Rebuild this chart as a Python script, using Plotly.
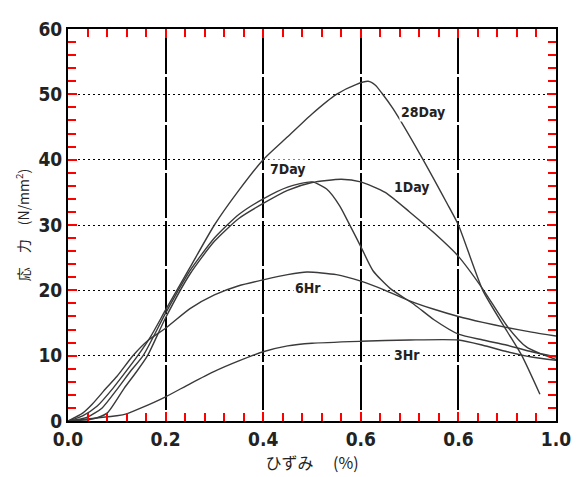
import plotly.graph_objects as go

# strain (%) / stress (N/mm2)
x_3hr = [0, 0.05, 0.1, 0.12, 0.15, 0.2, 0.25, 0.3, 0.35, 0.4, 0.45, 0.5, 0.6, 0.7, 0.8, 0.85, 0.9, 0.95, 1.0]
y_3hr = [0, 0.4, 0.8, 1.1, 2.0, 3.7, 5.7, 7.6, 9.2, 10.6, 11.5, 11.9, 12.2, 12.4, 12.4, 11.6, 10.6, 9.8, 9.3]

x_6hr = [0, 0.03, 0.05, 0.078, 0.1, 0.133, 0.165, 0.2, 0.25, 0.3, 0.35, 0.4, 0.45, 0.49,
         0.55, 0.6, 0.65, 0.7, 0.75, 0.8, 0.85, 0.9, 0.95, 1.0]
y_6hr = [0, 1.2, 2.6, 5.0, 6.8, 10.0, 12.4, 14.2, 17.2, 19.3, 20.7, 21.6, 22.4, 22.8,
         22.4, 21.4, 20.0, 18.4, 17.1, 16.0, 15.1, 14.3, 13.6, 13.0]

x_1day = [0, 0.05, 0.08, 0.115, 0.14, 0.163, 0.2, 0.25, 0.3, 0.35, 0.4, 0.45, 0.5, 0.56,
          0.6, 0.65, 0.7, 0.75, 0.8, 0.85, 0.9, 0.94, 1.0]
y_1day = [0, 0.3, 1.2, 5.0, 7.5, 10.0, 15.8, 22.5, 27.5, 31.0, 33.3, 35.3, 36.5, 37.0,
          36.6, 35.0, 32.0, 28.8, 25.2, 20.2, 14.5, 11.3, 9.4]

x_7day = [0, 0.04, 0.07, 0.102, 0.13, 0.154, 0.2, 0.25, 0.3, 0.35, 0.4, 0.45, 0.5, 0.53,
          0.557, 0.578, 0.6, 0.625, 0.66, 0.71, 0.75, 0.8, 0.85, 0.9, 0.95, 1.0]
y_7day = [0, 0.6, 2.0, 5.0, 7.8, 10.0, 16.5, 23.0, 28.0, 31.6, 34.0, 35.8, 36.6, 35.5,
          32.9, 29.9, 26.7, 23.0, 20.3, 17.8, 15.5, 13.3, 12.4, 11.6, 10.6, 9.8]

x_28day = [0, 0.03, 0.06, 0.092, 0.12, 0.143, 0.17, 0.2, 0.25, 0.3, 0.35, 0.4, 0.45, 0.5,
           0.55, 0.59, 0.615, 0.63, 0.643, 0.666, 0.72, 0.776, 0.8, 0.85, 0.9, 0.93, 0.967]
y_28day = [0, 0.8, 2.3, 5.0, 7.7, 10.0, 13.0, 17.0, 23.5, 30.0, 35.3, 40.0, 43.5, 47.0,
           50.0, 51.5, 52.0, 51.4, 50.2, 47.8, 41.0, 33.4, 30.0, 20.0, 13.7, 10.0, 4.1]

series = [("3Hr", x_3hr, y_3hr), ("6Hr", x_6hr, y_6hr), ("1Day", x_1day, y_1day),
          ("7Day", x_7day, y_7day), ("28Day", x_28day, y_28day)]

# label positions (data coords)
label_names = ["28Day", "7Day", "1Day", "6Hr", "3Hr"]
label_x = [0.727, 0.451, 0.705, 0.492, 0.695]
label_y = [47.3, 38.5, 35.8, 20.4, 10.1]

# the source figure labels the 0.8 tick as "0.6"
x_label_alias = {"0.8": "0.6"}

FONT = "DejaVu Sans Condensed, Liberation Sans, sans-serif"
JP_FONT = "Noto Sans CJK JP"
TICK = "red"

fig = go.Figure()
for name, xs, ys in series:
    fig.add_trace(go.Scatter(
        x=xs, y=ys, mode="lines", name=name,
        line=dict(color="#3a3a3a", width=1.4, shape="spline", smoothing=0.6),
        showlegend=False, hoverinfo="skip"))

for name, lx, ly in zip(label_names, label_x, label_y):
    fig.add_annotation(x=lx, y=ly, text=name, showarrow=False,
                       font=dict(family=FONT, size=14, color="#222", weight="bold"),
                       bgcolor="white", borderpad=1)

fig.update_layout(
    xaxis=dict(
        range=[0, 1], dtick=0.2, tickformat=".1f", labelalias=x_label_alias,
        ticks="inside", ticklen=9, tickwidth=2, tickcolor=TICK,
        minor=dict(dtick=0.04, ticks="inside", ticklen=8, tickwidth=2, tickcolor=TICK),
        showline=True, linecolor="black", linewidth=2, mirror="allticks", zeroline=False,
        showgrid=True, gridcolor="black", gridwidth=1.5, griddash="45px,3px",
        tickfont=dict(family=FONT, size=19, color="#222", weight="bold"),
        title=dict(text="ひずみ　 (%)", font=dict(family=JP_FONT, size=16, color="#222"),
                   standoff=2),
    ),
    yaxis=dict(
        range=[0, 60], dtick=10,
        ticks="inside", ticklen=9, tickwidth=2, tickcolor=TICK,
        minor=dict(dtick=2, ticks="inside", ticklen=8, tickwidth=2, tickcolor=TICK),
        showline=True, linecolor="black", linewidth=2, mirror="allticks", zeroline=False,
        showgrid=True, gridcolor="black", gridwidth=1.3, griddash="2px,3px",
        tickfont=dict(family=FONT, size=19, color="#222", weight="bold"),
        title=dict(text="応　力　(N/mm<sup>2</sup>)", font=dict(family=JP_FONT, size=14, color="#222"),
                   standoff=6),
    ),
    width=578, height=469,
    margin=dict(l=60, r=30, t=10, b=56),
    plot_bgcolor="white", paper_bgcolor="white",
)

fig.write_html("out.html")
